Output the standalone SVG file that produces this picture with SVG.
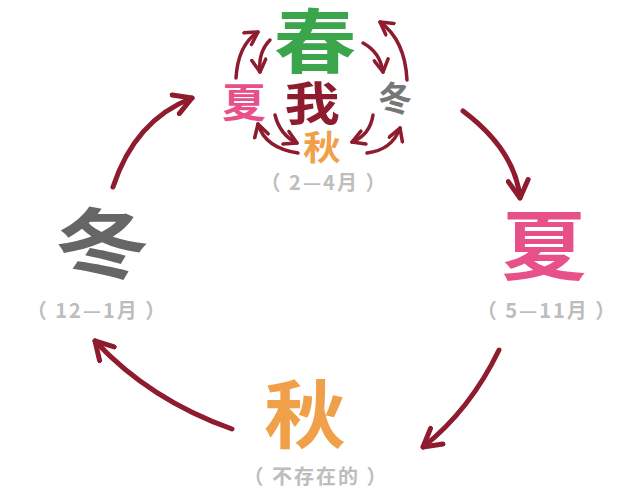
<svg xmlns="http://www.w3.org/2000/svg" width="640" height="492" viewBox="0 0 640 492">
<style>
.cjk{font-family:"Noto Sans CJK SC","Noto Sans CJK JP",sans-serif;font-weight:bold;text-anchor:middle}
.lbl{font-family:"Noto Sans CJK SC","Liberation Sans",sans-serif;font-weight:bold;font-size:20px;fill:#bdbdbd;text-anchor:middle;letter-spacing:2px}
.big{fill:none;stroke:#8e1b2e;stroke-width:5;stroke-linecap:round;marker-end:url(#ah)}
.sm{fill:none;stroke:#8e1b2e;stroke-width:3.5;stroke-linecap:round;marker-end:url(#ah)}
</style>
<defs>
<marker id="ah" viewBox="0 0 10 10" refX="8" refY="5" markerWidth="5" markerHeight="5" orient="auto" markerUnits="strokeWidth">
<path d="M1,1 L8,5 L1,9" fill="none" stroke="#8e1b2e" stroke-width="2" stroke-linecap="round" stroke-linejoin="round"/>
</marker>
</defs>
<rect width="640" height="492" fill="#ffffff"/>
<g id="connectors">
<path class="big" d="M113,187 Q135,120 192,98"/>
<path class="big" d="M463,111 Q515,150 520,198"/>
<path class="big" d="M499,350 Q470,410 423,447"/>
<path class="big" d="M232,429 Q150,400 95,341"/>
<path class="sm" d="M236,78 Q238,45 258,32"/>
<path class="sm" d="M270,40 Q258,52 260,72"/>
<path class="sm" d="M407,80 Q405,40 380,22"/>
<path class="sm" d="M363,43 Q380,52 383,72"/>
<path class="sm" d="M298,153 Q265,148 258,124"/>
<path class="sm" d="M275,115 Q280,135 297,143"/>
<path class="sm" d="M373,115 Q370,135 352,142"/>
<path class="sm" d="M367,153 Q392,150 400,128"/>
</g>
<g id="spring-cluster">
<text class="cjk" transform="translate(315,68) scale(1.18,1)" font-size="70" fill="#3aa54a">春</text>
<text class="cjk" transform="translate(312,120) scale(1.2,1)" font-size="46" fill="#8e1b2e">我</text>
<text class="cjk" transform="translate(244,117) scale(1.1,1)" font-size="40" fill="#e8508a">夏</text>
<text class="cjk" x="395" y="111" font-size="34" fill="#777777">冬</text>
<text class="cjk" transform="translate(322,160) scale(1.1,1)" font-size="34" fill="#f0a048">秋</text>
<text class="lbl" x="324" y="190">（ 2—4月 ）</text>
</g>
<g id="winter">
<text class="cjk" transform="translate(102,272) scale(1.25,1)" font-size="76" fill="#666666">冬</text>
<text class="lbl" x="97" y="318">（ 12—1月 ）</text>
</g>
<g id="summer">
<text class="cjk" transform="translate(544,274) scale(1.12,1)" font-size="76" fill="#e8508a">夏</text>
<text class="lbl" x="547" y="318">（ 5—11月 ）</text>
</g>
<g id="autumn">
<text class="cjk" transform="translate(305,442) scale(1.1,1)" font-size="74" fill="#f0a048">秋</text>
<text class="lbl" x="316" y="484">（ 不存在的 ）</text>
</g>
</svg>
